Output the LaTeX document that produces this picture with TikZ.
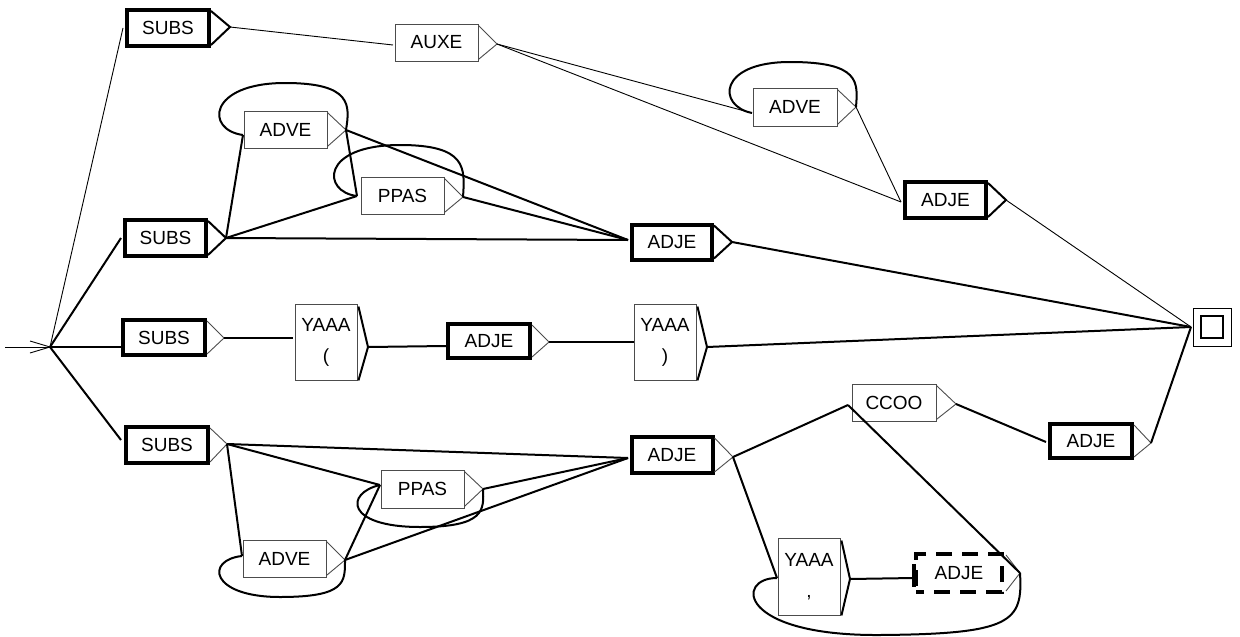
\documentclass[tikz,border=0pt]{standalone}
\usepackage{fontspec}
\setmainfont{Liberation Sans}
\begin{document}
\begin{tikzpicture}[x=1pt,y=-1pt,
  every node/.style={font=\fontsize{19}{23}\selectfont},
  thinbox/.style={draw=black!70, line width=0.9pt, rectangle, inner sep=0pt},
  thickbox/.style={draw=black, line width=4pt, rectangle, inner sep=0pt},
  dashbox/.style={draw=black, line width=4pt, dash pattern=on 16pt off 10pt, dash phase=8pt, rectangle, inner sep=0pt},
  edgethin/.style={line width=0.9pt},
  edgethick/.style={line width=2pt},
  trithin/.style={line width=0.9pt, draw=black!70},
  trithick/.style={line width=2pt},
  loopline/.style={line width=2pt}]
\useasboundingbox (0,0) rectangle (1240,637);

% boxes
\node[thickbox, minimum width=82pt, minimum height=36pt] (B1) at (168,28) {SUBS};
\node[thinbox, minimum width=83pt, minimum height=37pt] (B2) at (436.5,42.5) {AUXE};
\node[thinbox, minimum width=84pt, minimum height=38pt] (B3) at (795,107) {ADVE};
\node[thickbox, minimum width=81pt, minimum height=36pt] (B4) at (945.5,200) {ADJE};
\node[thickbox, minimum width=81pt, minimum height=36pt] (B5) at (165.5,238) {SUBS};
\node[thinbox, minimum width=83pt, minimum height=37pt] (B6) at (285.5,129.5) {ADVE};
\node[thinbox, minimum width=83pt, minimum height=37pt] (B7) at (402.5,195.5) {PPAS};
\node[thickbox, minimum width=80pt, minimum height=35pt] (B8) at (672,242) {ADJE};
\node[thickbox, minimum width=82pt, minimum height=35pt] (B9) at (164,337.5) {SUBS};
\node[thinbox, minimum width=62pt, minimum height=76pt, align=center] (B10) at (326,342) {YAAA\\[8pt](};
\node[thickbox, minimum width=82pt, minimum height=34pt] (B11) at (489,341) {ADJE};
\node[thinbox, minimum width=62pt, minimum height=76pt, align=center] (B12) at (665,342) {YAAA\\[8pt])};
\node[thickbox, minimum width=82pt, minimum height=36pt] (B13) at (167,445) {SUBS};
\node[thinbox, minimum width=83pt, minimum height=38pt] (B14) at (422.5,489) {PPAS};
\node[thinbox, minimum width=83pt, minimum height=37pt] (B15) at (284.5,558.5) {ADVE};
\node[thickbox, minimum width=81pt, minimum height=36pt] (B16) at (672,455) {ADJE};
\node[thinbox, minimum width=84pt, minimum height=37pt] (B17) at (894,402.5) {CCOO};
\node[thickbox, minimum width=82pt, minimum height=34pt] (B18) at (1091,441) {ADJE};
\node[thinbox, minimum width=62pt, minimum height=77pt, align=center] (B19) at (809,576.5) {YAAA\\[8pt],};
\node[dashbox, minimum width=86pt, minimum height=38pt] (B20) at (959,573) {ADJE};
\draw[line width=4pt] ([yshift=-12pt]B20.north west) -- ([yshift=7pt]B20.south west);

% final state
\node[draw, line width=1pt, minimum width=38pt, minimum height=38pt, inner sep=0pt] (F) at (1212,327) {};
\node[draw, line width=2.5pt, minimum width=22pt, minimum height=22pt, inner sep=0pt] (Fin) at (1212,327) {};

% tips
\coordinate (B1t) at (230,27);
\coordinate (B2t) at (497,44);
\coordinate (B3t) at (856,107);
\coordinate (B4t) at (1006,200);
\coordinate (B5t) at (226,238);
\coordinate (B6t) at (346,130);
\coordinate (B7t) at (463,197);
\coordinate (B8t) at (732,242);
\coordinate (B9t) at (224,338);
\coordinate (B10t) at (368,347);
\coordinate (B11t) at (549,342);
\coordinate (B12t) at (707,347);
\coordinate (B13t) at (227,444);
\coordinate (B14t) at (483,489);
\coordinate (B15t) at (345,560);
\coordinate (B16t) at (733,457);
\coordinate (B17t) at (956,404);
\coordinate (B18t) at (1151,443);
\coordinate (B19t) at (850,579);
\coordinate (B20t) at (1020,573);

% inputs
\coordinate (B1i) at (123,28);
\coordinate (B2i) at (393,45);
\coordinate (B3i) at (752,113);
\coordinate (B4i) at (901,202);
\coordinate (B5i) at (121,238);
\coordinate (B6i) at (243,135);
\coordinate (B7i) at (357,196);
\coordinate (B8i) at (628,240);
\coordinate (B9i) at (121,347);
\coordinate (B10i) at (293,338);
\coordinate (B11i) at (446,346);
\coordinate (B12i) at (634,342);
\coordinate (B13i) at (121,440);
\coordinate (B14i) at (380,485);
\coordinate (B15i) at (242,556);
\coordinate (B16i) at (628,458);
\coordinate (B17i) at (848,405);
\coordinate (B18i) at (1046,442);
\coordinate (B19i) at (777,578);
\coordinate (B20i) at (914,578);
\coordinate (Fi) at (1191,327);

% triangles
\draw[trithick] ([yshift=-3pt]B1.north east) -- (B1t) -- ([yshift=3pt]B1.south east);
\draw[trithin] ([yshift=-2pt]B2.north east) -- (B2t) -- ([yshift=2pt]B2.south east);
\draw[trithin] ([yshift=-2pt]B3.north east) -- (B3t) -- ([yshift=2pt]B3.south east);
\draw[trithick] ([yshift=-3pt]B4.north east) -- (B4t) -- ([yshift=3pt]B4.south east);
\draw[trithick] ([yshift=-3pt]B5.north east) -- (B5t) -- ([yshift=3pt]B5.south east);
\draw[trithin] ([yshift=-2pt]B6.north east) -- (B6t) -- ([yshift=2pt]B6.south east);
\draw[trithin] ([yshift=-2pt]B7.north east) -- (B7t) -- ([yshift=2pt]B7.south east);
\draw[trithick] ([yshift=-3pt]B8.north east) -- (B8t) -- ([yshift=3pt]B8.south east);
\draw[trithin] ([yshift=-3pt]B9.north east) -- (B9t) -- ([yshift=3pt]B9.south east);
\draw[trithick] ([yshift=-3pt,xshift=1pt]B10.north east) -- (B10t) -- ([xshift=1pt]B10.south east);
\draw[trithin] ([yshift=-3pt]B11.north east) -- (B11t) -- ([yshift=3pt]B11.south east);
\draw[trithick] ([yshift=-3pt,xshift=1pt]B12.north east) -- (B12t) -- ([xshift=1pt]B12.south east);
\draw[trithin] ([yshift=-3pt]B13.north east) -- (B13t) -- ([yshift=3pt]B13.south east);
\draw[trithin] ([yshift=-2pt]B14.north east) -- (B14t) -- ([yshift=2pt]B14.south east);
\draw[trithin] ([yshift=-2pt]B15.north east) -- (B15t) -- ([yshift=2pt]B15.south east);
\draw[trithin] ([yshift=-3pt]B16.north east) -- (B16t) -- ([yshift=3pt]B16.south east);
\draw[trithin] ([yshift=-2pt]B17.north east) -- (B17t) -- ([yshift=2pt]B17.south east);
\draw[trithin] ([yshift=-3pt]B18.north east) -- (B18t) -- ([yshift=3pt]B18.south east);
\draw[trithick] ([yshift=-3pt,xshift=1pt]B19.north east) -- (B19t) -- ([xshift=1pt]B19.south east);
\draw[trithin] ([yshift=-3pt,xshift=2pt]B20.north east) -- (B20t) -- ([yshift=3pt,xshift=2pt]B20.south east);

% initial arrow
\coordinate (S) at (5,347);
\coordinate (J) at (50,347);
\coordinate (Ha) at (30,341);
\coordinate (Hb) at (30,353);
\draw[edgethin] (S) -- (J);
\draw[edgethin] (Ha) -- (J) -- (Hb);

% thin edges
\draw[edgethin] (J) -- (B1i);
\draw[edgethin] (B1t) -- (B2i);
\draw[edgethin] (B2t) -- (B3i);
\draw[edgethin] (B2t) -- (B4i);
\draw[edgethin] (B3t) -- (B4i);
\draw[edgethin] (B4t) -- (Fi);

% thick edges
\draw[edgethick] (J) -- (B5i);
\draw[edgethick] (J) -- (B9i);
\draw[edgethick] (J) -- (B13i);
\draw[edgethick] (B5t) -- (B6i);
\draw[edgethick] (B5t) -- (B7i);
\draw[edgethick] (B5t) -- (B8i);
\draw[edgethick] (B6t) -- (B7i);
\draw[edgethick] (B6t) -- (B8i);
\draw[edgethick] (B7t) -- (B8i);
\draw[edgethick] (B8t) -- (Fi);
\draw[edgethick] (B9t) -- (B10i);
\draw[edgethick] (B10t) -- (B11i);
\draw[edgethick] (B11t) -- (B12i);
\draw[edgethick] (B12t) -- (Fi);
\draw[edgethick] (B13t) -- (B14i);
\draw[edgethick] (B13t) -- (B15i);
\draw[edgethick] (B13t) -- (B16i);
\draw[edgethick] (B15t) -- (B14i);
\draw[edgethick] (B15t) -- (B16i);
\draw[edgethick] (B14t) -- (B16i);
\draw[edgethick] (B16t) -- (B17i);
\draw[edgethick] (B16t) -- (B19i);
\draw[edgethick] (B17t) -- (B18i);
\draw[edgethick] (B18t) -- (Fi);
\draw[edgethick] (B19t) -- (B20i);
\draw[edgethick] (B20t) -- (B17i);

% loops
\draw[loopline] (B6i) .. controls (205,130) and (208,83) .. (285,83) .. controls (352,83) and (350,105) .. (B6t);
\draw[loopline] (B7i) .. controls (322,192) and (320,145) .. (400,145) .. controls (467,145) and (465,168) .. (B7t);
\draw[loopline] (B3i) .. controls (717,106) and (718,62) .. (790,62) .. controls (860,62) and (858,82) .. (B3t);
\draw[loopline] (B14i) .. controls (345,493) and (345,527) .. (420,527) .. controls (485,527) and (484,510) .. (B14t);
\draw[loopline] (B15i) .. controls (205,560) and (210,597) .. (280,597) .. controls (346,597) and (345,582) .. (B15t);
\draw[loopline] (B20t) .. controls (1023,622) and (1012,634) .. (880,635) .. controls (738,636) and (735,578) .. (B19i);
\end{tikzpicture}
\end{document}
